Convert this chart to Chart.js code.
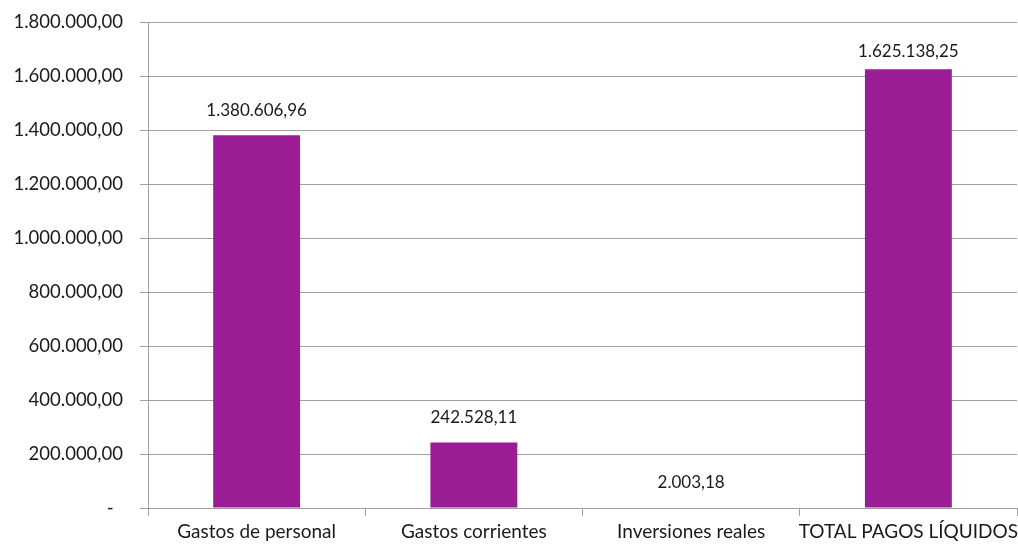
<!DOCTYPE html>
<html>
<head>
<meta charset="utf-8">
<script src="https://cdn.jsdelivr.net/npm/chart.js@4"></script>
<style>
  html, body { margin: 0; padding: 0; background: #fff; }
  #wrap { width: 1018px; height: 544px; position: relative; }
</style>
</head>
<body>
<div id="wrap"><canvas id="pagosChart"></canvas></div>
<script>
// data
const categories = ['Gastos de personal', 'Gastos corrientes', 'Inversiones reales', 'TOTAL PAGOS LÍQUIDOS'];
const pagos = [1380606.96, 242528.11, 2003.18, 1625138.25];
const yTicks = [0, 200000, 400000, 600000, 800000, 1000000, 1200000, 1400000, 1600000, 1800000];

const fontFamily = 'Lato, "Open Sans", sans-serif';
const gridColor = '#A0A0A0';

function formatEs(v) {
    if (v === 0) return '-  ';
    return v.toLocaleString('de-DE', { minimumFractionDigits: 2, maximumFractionDigits: 2 });
}

// labels above bars
const valueLabels = {
    id: 'valueLabels',
    afterDatasetsDraw(chart) {
        const ctx = chart.ctx;
        const meta = chart.getDatasetMeta(0);
        ctx.save();
        ctx.font = '17px ' + fontFamily;
        ctx.fillStyle = '#1a1a1a';
        ctx.textAlign = 'center';
        ctx.textBaseline = 'middle';
        meta.data.forEach((bar, i) => {
            let y = bar.y - 25;
            y = Math.max(y, chart.chartArea.top + 30);
            ctx.fillText(formatEs(pagos[i]), bar.x, y);
        });
        ctx.restore();
    }
};

new Chart(document.getElementById('pagosChart'), {
    type: 'bar',
    data: {
        labels: categories,
        datasets: [{
            data: pagos,
            backgroundColor: '#9B1D96',
            borderWidth: 0,
            categoryPercentage: 1,
            barPercentage: 0.4
        }]
    },
    options: {
        responsive: true,
        maintainAspectRatio: false,
        animation: false,
        layout: { padding: { top: 22, right: 1, left: 0, bottom: 0 } },
        plugins: {
            legend: { display: false },
            tooltip: { enabled: false }
        },
        scales: {
            y: {
                min: 0,
                max: 1800000,
                afterFit(scale) {
                    scale.width = 148;
                    scale.paddingTop = 0;
                    scale.paddingBottom = 0;
                },
                afterBuildTicks(scale) { scale.ticks = yTicks.map(v => ({ value: v })); },
                border: { display: true, color: gridColor, width: 1 },
                grid: {
                    color: gridColor,
                    lineWidth: 1,
                    tickLength: 8
                },
                ticks: {
                    color: '#1a1a1a',
                    padding: 17,
                    font: { family: fontFamily, size: 18.5 },
                    callback: v => formatEs(v)
                }
            },
            x: {
                afterFit(scale) {
                    scale.height = 36;
                    scale.paddingLeft = 0;
                    scale.paddingRight = 0;
                },
                border: { display: true, color: gridColor, width: 1 },
                grid: {
                    offset: true,
                    drawOnChartArea: false,
                    drawTicks: true,
                    tickLength: 8,
                    color: gridColor
                },
                ticks: {
                    color: '#1a1a1a',
                    padding: 4,
                    maxRotation: 0,
                    autoSkip: false,
                    font: { family: fontFamily, size: 19 }
                }
            }
        }
    },
    plugins: [valueLabels]
});
</script>
</body>
</html>
